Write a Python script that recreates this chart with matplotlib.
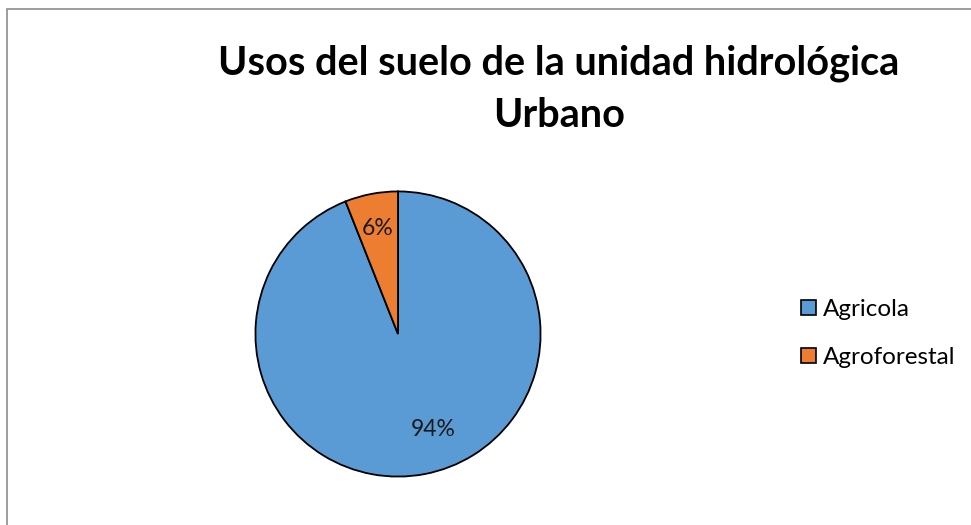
import matplotlib
matplotlib.use("Agg")
import matplotlib.pyplot as plt
from matplotlib.patches import Patch, Rectangle

plt.rcParams['font.family'] = ['Lato', 'DejaVu Sans']

# data
labels = ['Agricola', 'Agroforestal']
values = [94, 6]
colors = ['#5B9BD5', '#ED7D31']
title = 'Usos del suelo de la unidad hidrológica\nUrbano'

W, H = 971, 525
fig = plt.figure(figsize=(W / 100, H / 100), dpi=100)

# chart area border (only left/top visible in the crop)
fig.patches.append(Rectangle((7 / W, -0.1), 1.2, 1 - 9 / H + 0.1,
                             transform=fig.transFigure, fill=False,
                             edgecolor='#8c8c8c', linewidth=1.2))

fig.text(559 / W, 1 - 89 / H, title, ha='center', va='center',
         fontsize=28.5, fontweight='bold', linespacing=1.5)

# pie: centre ~(398, 334) px, radius ~144 px
cx, cy, r = 398, 334, 144
ax = fig.add_axes([(cx - r) / W, (H - cy - r) / H, 2 * r / W, 2 * r / H])
wedges, texts, autotexts = ax.pie(
    values, colors=colors, startangle=90, counterclock=False,
    autopct='%1.0f%%', pctdistance=0.75,
    wedgeprops=dict(edgecolor='black', linewidth=1.3),
    textprops=dict(fontsize=16.5, color='#1a1a1a'))
ax.set_xlim(-1.01, 1.01)
ax.set_ylim(-1.01, 1.01)
ax.set_aspect('equal')
# Excel's best-fit label spot for the big slice
autotexts[0].set_position((0.25, -0.67))

handles = [Patch(facecolor=c, edgecolor='black', linewidth=1.2) for c in colors]
fig.legend(handles, labels, loc='center left',
           bbox_to_anchor=(801 / W, 1 - 333.5 / H), frameon=False,
           fontsize=17.5, handlelength=0.6, handleheight=0.6,
           handletextpad=0.3, labelspacing=1.1, borderpad=0,
           borderaxespad=0)

fig.savefig('out.png', dpi=100)
